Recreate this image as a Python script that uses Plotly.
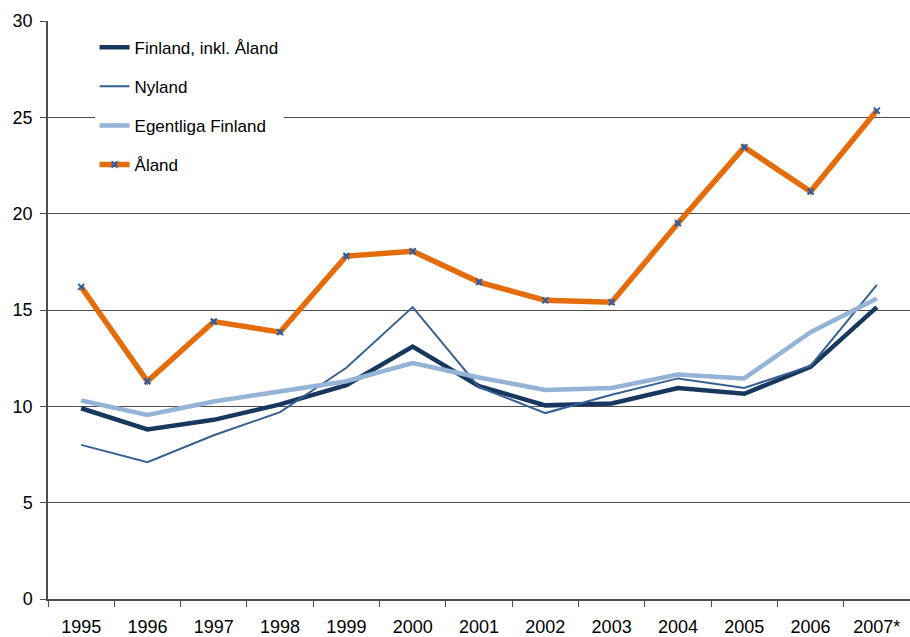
import plotly.graph_objects as go

years = ["1995", "1996", "1997", "1998", "1999", "2000", "2001", "2002", "2003", "2004", "2005", "2006", "2007*"]
finland = [9.9, 8.8, 9.3, 10.1, 11.1, 13.1, 11.05, 10.05, 10.15, 10.95, 10.65, 12.05, 15.15]
nyland = [8.0, 7.1, 8.5, 9.7, 12.0, 15.15, 11.0, 9.65, 10.6, 11.45, 10.95, 12.1, 16.3]
egentliga = [10.3, 9.55, 10.25, 10.8, 11.3, 12.25, 11.5, 10.85, 10.95, 11.65, 11.45, 13.85, 15.6]
aland = [16.2, 11.3, 14.4, 13.85, 17.8, 18.05, 16.45, 15.5, 15.4, 19.5, 23.45, 21.15, 25.35]

fig = go.Figure()
fig.add_trace(go.Scatter(x=years, y=finland, name="Finland, inkl. Åland", mode="lines",
                         line=dict(color="#17375E", width=4.5), legendgroup="a"))
fig.add_trace(go.Scatter(x=years, y=nyland, name="Nyland", mode="lines",
                         line=dict(color="#376092", width=2), legendgroup="b"))
fig.add_trace(go.Scatter(x=years, y=egentliga, name="Egentliga Finland", mode="lines",
                         line=dict(color="#95B3D7", width=4.5), legendgroup="c"))
fig.add_trace(go.Scatter(x=years, y=aland, name="Åland", mode="lines+markers",
                         line=dict(color="#E46C0A", width=5.5),
                         marker=dict(symbol="x-thin", size=6, color="#1F5FAF",
                                     line=dict(color="#1F5FAF", width=2)),
                         legendgroup="d"))

fig.update_layout(
    width=910, height=637,
    margin=dict(l=48, r=0, t=21, b=36),
    paper_bgcolor="white", plot_bgcolor="white",
    font=dict(family="Liberation Sans, Arial, sans-serif", size=18, color="black"),
    showlegend=True,
    legend=dict(x=0.054, y=0.985, xanchor="left", yanchor="top",
                bgcolor="white", font=dict(size=17),
                traceorder="grouped", tracegroupgap=14,
                itemwidth=30),
    xaxis=dict(type="category", range=[-0.5, 12.5], showgrid=False,
               showline=True, linecolor="#4d4d4d", linewidth=1.5,
               ticks="outside", ticklen=6, tickcolor="#4d4d4d",
               tickson="boundaries", ticklabelstandoff=11,
               tickfont=dict(size=18)),
    yaxis=dict(range=[0, 30], dtick=5, showgrid=True, gridcolor="#4d4d4d", gridwidth=1.3,
               showline=True, linecolor="#4d4d4d", linewidth=1.5,
               ticks="outside", ticklen=6, tickcolor="#4d4d4d",
               zeroline=False, ticklabelstandoff=4,
               tickfont=dict(size=18)),
)

fig.write_html("out.html", config={"displayModeBar": False},
               post_script="document.body.style.margin='0';")
